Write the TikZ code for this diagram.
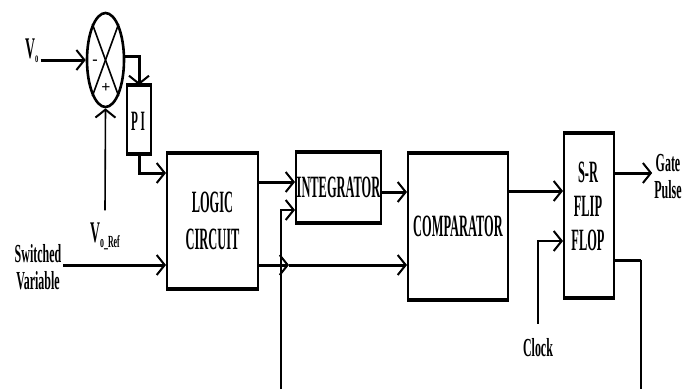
\documentclass[tikz,border=0pt]{standalone}
\usepackage{fontspec}
\setmainfont{Liberation Serif}
\newfontfamily\nf[FakeStretch=0.40,UprightFont={* Bold}]{Liberation Serif}
\newfontfamily\nfb[FakeStretch=0.46,UprightFont={* Bold}]{Liberation Serif}
\usetikzlibrary{arrows.meta,shapes.geometric}
\begin{document}
\begin{tikzpicture}[x=1pt,y=-1pt,
  box/.style={draw,line width=2pt,inner sep=0pt,anchor=north west,
    font=\nf\fontsize{31}{37}\selectfont,align=center},
  edge/.style={line width=3.6pt},
  thk/.style={line width=3pt},
  thn/.style={line width=1.6pt},
  arr/.style={-{Straight Barb[length=8pt,width=20pt,line width=2pt]}},
  lbl/.style={inner sep=2pt,font=\nfb\fontsize{26}{27}\selectfont,align=center},
  sgn/.style={inner sep=0pt,font=\bfseries\fontsize{16}{16}\selectfont}]
\useasboundingbox (0,0) rectangle (697,389);
% summing junction
\node[draw,ellipse,line width=2.6pt,minimum width=37pt,minimum height=94pt,inner sep=0pt] (sum) at (105.5,60) {};
\draw[thn] (sum.110) -- (sum.290);
\draw[thn] (sum.70) -- (sum.250);
\node[sgn] (minus) at (95,62) {-};
\node[sgn] (plus) at (106,88) {+};
% boxes
\node[box,minimum width=24pt,minimum height=67pt] (pi) at (126,85) {};
\node[font=\nf\fontsize{28}{28}\selectfont] (pitext) at (138,121) {P I};
\node[box,minimum width=91pt,minimum height=134pt] (logic) at (166,153) {LOGIC\\CIRCUIT};
\node[box,minimum width=85pt,minimum height=69pt] (integ) at (295,152) {INTEGRATOR};
\node[box,minimum width=100pt,minimum height=145pt] (comp) at (407,153) {COMPARATOR};
\node[box,minimum width=50pt,minimum height=163pt] (ff) at (563,133) {};
\node[font=\nf\fontsize{31}{34}\selectfont,align=center] (fftext) at (588,206) {S-R\\FLIP\\FLOP};
\foreach \b in {pi,logic,integ,comp,ff}{
  \draw[edge] (\b.north west) -- (\b.north east);
  \draw[edge] (\b.south west) -- (\b.south east);
}
% labels
\node[lbl,anchor=base west,font=\nfb\fontsize{30}{30}\selectfont] (vo) at (23,58) {V\raisebox{-4pt}{\fontsize{14}{14}\selectfont o}};
\node[lbl,font=\nfb\fontsize{30}{30}\selectfont] (vref) at (105,236) {V\raisebox{-5pt}{\fontsize{17}{17}\selectfont o\_Ref}};
\node[lbl] (sv) at (38,267) {Switched\\Variable};
\node[lbl] (clk) at (538,348) {Clock};
\node[lbl] (gp) at (668,177) {Gate\\Pulse};
% ports
\coordinate (Li1) at (166,173);
\coordinate (Li2) at (166,265);
\coordinate (Lo1) at (257,182);
\coordinate (Lo2) at (257,265);
\coordinate (Ii1) at (295,182);
\coordinate (Ii2) at (295,210);
\coordinate (Io) at (380,192);
\coordinate (Ci1) at (407,192);
\coordinate (Ci2) at (407,265);
\coordinate (Co) at (507,191);
\coordinate (Fi1) at (563,191);
\coordinate (Fi2) at (563,241);
\coordinate (Fo1) at (613,173);
\coordinate (Fo2) at (613,260);
\coordinate (X) at (289,265);
\coordinate (fbB) at (281,389);
\coordinate (fbT) at (641,389);
% connectors
\draw[thk,arr] (vo.east |- sum.west) -- (sum.west);
\draw[thk,arr] (sum.10) -| (pi.north);
\draw[thn,arr] ([yshift=10pt]vref.north) -- (sum.south);
\draw[thk,arr] (pi.south) |- (Li1);
\draw[thk,arr] (sv.east |- Li2) -- (Li2);
\draw[thk,arr] (Lo1) -- (Ii1);
\draw[thk,arr] (Lo2) -- (X);
\draw[thk,arr] (X) -- (Ci2);
\draw[thk,arr] (Io) -- (Ci1);
\draw[thk,arr] (Co) -- (Fi1);
\draw[thk,arr] (Fo1) -- (gp.west |- Fo1);
\draw[thn,arr] ([yshift=13pt]clk.north) |- (Fi2);
\draw[thk] (Fo2) -- (Fo2 -| fbT);
\draw[thn] (Fo2 -| fbT) -- (fbT);
\draw[thn,arr] (fbB) |- (Ii2);
\end{tikzpicture}
\end{document}
